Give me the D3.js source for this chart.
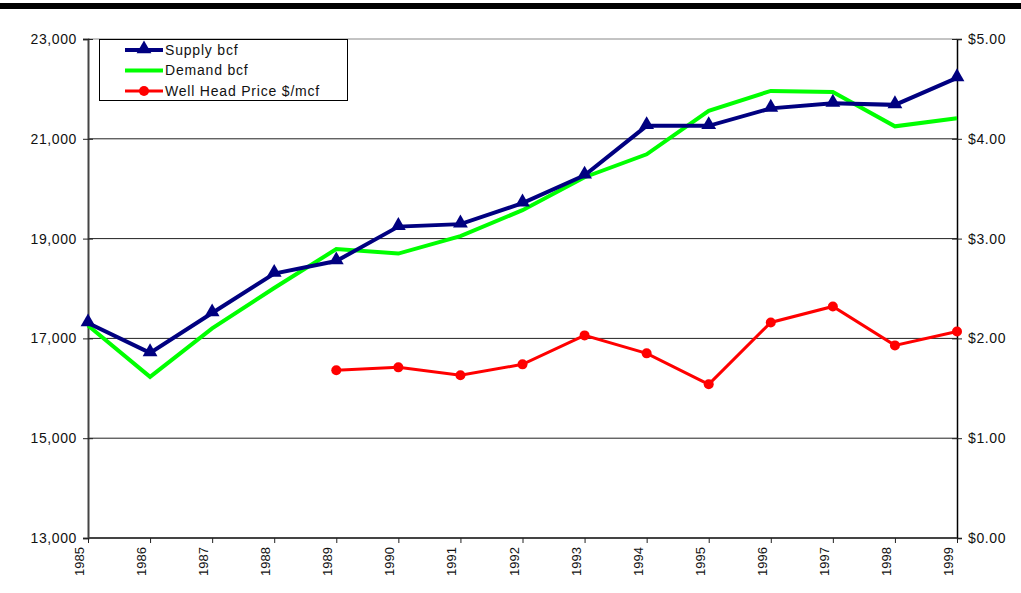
<!DOCTYPE html>
<html><head><meta charset="utf-8">
<script src="https://cdn.jsdelivr.net/npm/d3@7"></script>
<style>body{margin:0;background:#fff;}svg{display:block;font-family:"Liberation Sans",Arial,sans-serif;}</style>
</head><body>
<svg id="c" width="1021" height="593"></svg>
<script>
const years = [1985,1986,1987,1988,1989,1990,1991,1992,1993,1994,1995,1996,1997,1998,1999];
const supply = [17310,16710,17510,18300,18550,19240,19290,19710,20270,21260,21260,21610,21710,21680,22220];
const demand = [17260,16230,17200,18010,18790,18700,19050,19570,20230,20690,21560,21960,21940,21250,21410];
const priceYears = [1989,1990,1991,1992,1993,1994,1995,1996,1997,1998,1999];
const price = [1.68,1.71,1.63,1.74,2.03,1.85,1.54,2.16,2.32,1.93,2.07];
const leftTicks = [13000,15000,17000,19000,21000,23000];
const rightTicks = [0,1,2,3,4,5];
const legendLabels = ["Supply bcf","Demand bcf","Well Head Price $/mcf"];

const svg = d3.select("#c");
const L=88, R=957, T=39, B=538;
const x = d3.scalePoint().domain(years).range([L,R]);
const y = d3.scaleLinear().domain([13000,23000]).range([B,T]);
const y2 = d3.scaleLinear().domain([0,5]).range([B,T]);

// top bar
svg.append("rect").attr("x",0).attr("y",3).attr("width",1021).attr("height",6).attr("fill","#000");

// gridlines
svg.append("g").selectAll("line").data(leftTicks.slice(1)).join("line")
  .attr("x1",L).attr("x2",R).attr("y1",d=>y(d)).attr("y2",d=>y(d))
  .attr("stroke",d=>d===23000?"#888":"#222").attr("stroke-width",1);

// left axis
const gl = svg.append("g").attr("transform",`translate(${L},0)`)
  .call(d3.axisLeft(y).tickValues(leftTicks).tickFormat(d3.format(",")).tickSize(5).tickPadding(6));
gl.select(".domain").attr("stroke","#444").attr("stroke-width",2);
gl.selectAll(".tick line").attr("x2",-5).attr("x1",5).attr("stroke","#222");
gl.selectAll("text").attr("font-size",14).attr("letter-spacing","0.6px").attr("fill","#111").attr("font-family","Liberation Sans, Arial");

// right axis
const gr = svg.append("g").attr("transform",`translate(${R},0)`)
  .call(d3.axisRight(y2).tickValues(rightTicks).tickFormat(d=>"$"+d3.format(".2f")(d)).tickSize(5).tickPadding(6));
gr.select(".domain").attr("stroke","#000").attr("stroke-width",1.5);
gr.selectAll(".tick line").attr("x1",-5).attr("stroke","#222");
gr.selectAll("text").attr("font-size",14).attr("letter-spacing","0.6px").attr("fill","#111").attr("font-family","Liberation Sans, Arial");

// bottom axis
const gb = svg.append("g").attr("transform",`translate(0,${B})`)
  .call(d3.axisBottom(x).tickSize(5).tickPadding(4));
gb.select(".domain").attr("stroke","#444").attr("stroke-width",2).attr("d",`M${L},0H${R}`);
gb.selectAll(".tick line").attr("stroke","#222");
gb.selectAll("text").attr("font-size",13).attr("fill","#111").attr("font-family","Liberation Sans, Arial")
  .attr("text-anchor","end").attr("dy","0.35em")
  .attr("transform","rotate(-90) translate(-9,-9)").attr("x",0).attr("y",0);

// lines
const line = d3.line().x((d,i)=>x(years[i])).y(d=>y(d));
svg.append("path").datum(demand).attr("d",line).attr("fill","none").attr("stroke","#00FF00").attr("stroke-width",4).attr("stroke-linejoin","miter");
svg.append("path").datum(supply).attr("d",line).attr("fill","none").attr("stroke","#000080").attr("stroke-width",4).attr("stroke-linejoin","miter");
const tri = d3.symbol().type(d3.symbolTriangle).size(95);
svg.append("g").selectAll("path").data(supply).join("path")
  .attr("d",tri).attr("transform",(d,i)=>`translate(${x(years[i])},${y(d)-1})`).attr("fill","#000080");

const pline = d3.line().x((d,i)=>x(priceYears[i])).y(d=>y2(d));
svg.append("path").datum(price).attr("d",pline).attr("fill","none").attr("stroke","#FF0000").attr("stroke-width",3);
svg.append("g").selectAll("circle").data(price).join("circle")
  .attr("cx",(d,i)=>x(priceYears[i])).attr("cy",d=>y2(d)).attr("r",5).attr("fill","#FF0000");

// legend
const lg = svg.append("g");
lg.append("rect").attr("x",99.5).attr("y",39.5).attr("width",248).attr("height",61).attr("fill","#fff").attr("stroke","#000").attr("stroke-width",1);
const colors = ["#000080","#00FF00","#FF0000"];
legendLabels.forEach((t,i)=>{
  const yy = 50 + i*20.5;
  lg.append("line").attr("x1",125).attr("x2",163).attr("y1",yy).attr("y2",yy).attr("stroke",colors[i]).attr("stroke-width",i===2?3:4);
  if(i===0) lg.append("path").attr("d",tri).attr("transform",`translate(144,${yy-1})`).attr("fill",colors[0]);
  if(i===2) lg.append("circle").attr("cx",144).attr("cy",yy).attr("r",5).attr("fill",colors[2]);
  lg.append("text").attr("x",165).attr("y",yy).attr("dy","0.35em").attr("font-size",14).attr("letter-spacing","0.8px").attr("fill","#111").text(t);
});
</script>
</body></html>
